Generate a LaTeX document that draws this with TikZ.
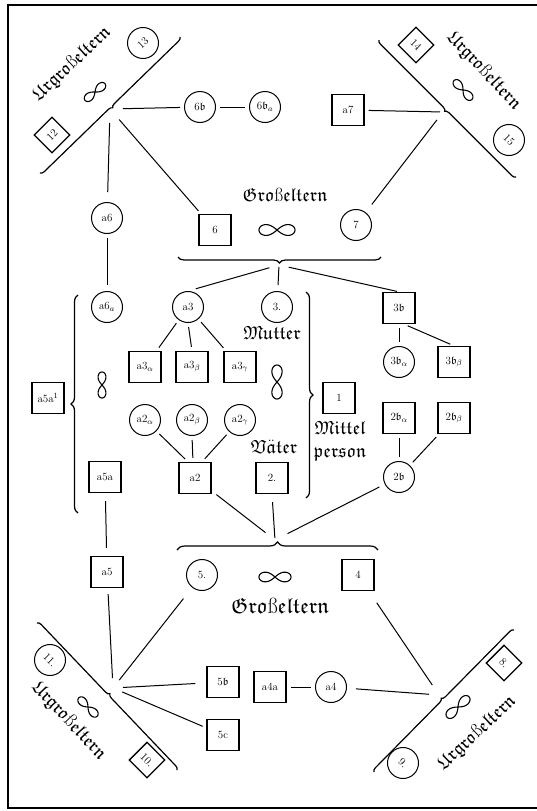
\documentclass[tikz,border=0pt]{standalone}
\usepackage{amssymb}
\usetikzlibrary{decorations.pathreplacing}

\newcommand{\fb}{\mathfrak{b}}
\newcommand{\fk}[1]{\ensuremath{\mathfrak{#1}}}
\newcommand{\Urgross}{\fk{Urgro}ß\fk{eltern}}
\newcommand{\Gross}{\fk{Gro}ß\fk{eltern}}
% lemniscate (the "infinity" marriage sign): x, y, angle, half length
\newcommand{\lemni}[4]{%
  \begin{scope}[shift={(#1,#2)},rotate=#3]
    \draw[lemline] plot[domain=0:360,samples=90,variable=\t]
      ({#4*cos(\t)/(1+sin(\t)^2)},{0.85*#4*sin(\t)*cos(\t)/(1+sin(\t)^2)});
  \end{scope}}

\begin{document}
\begin{tikzpicture}[x=1pt,y=-1pt,
  every node/.append style={font=\fontsize{11}{12}\selectfont},
  pers/.style={circle,draw,line width=1pt,minimum size=31pt,inner sep=0pt},
  kbox/.style={rectangle,draw,line width=1.3pt,minimum width=32pt,minimum height=31pt,inner sep=0pt},
  dbox/.style={rectangle,draw,line width=1.3pt,minimum size=25pt,inner sep=0pt},
  link/.style={line width=1pt,shorten <=4pt,shorten >=4pt},
  bracex/.style={decorate,decoration={brace,amplitude=#1},line width=1.2pt},
  lemline/.style={line width=1.1pt},
  frak/.style={font=\fontsize{19}{21}\selectfont,inner sep=0pt},
  frakbig/.style={font=\fontsize{22}{24}\selectfont,inner sep=0pt}]

\useasboundingbox (0,0) rectangle (536,811);
% frame; its right edge lies past the page
\draw[line width=2pt] (545,5) -- (8,5) -- (8,808) -- (545,808);

% ---- great-grandparent pairs in the four corners
\draw[bracex=4pt] (180,37) -- (40,173);
\draw[bracex=4pt] (516,177) -- (379,40);
\draw[bracex=4pt] (37,623) -- (177,770);
\draw[bracex=4pt] (374,772) -- (514,630);
\coordinate (hTL) at (110,109);
\coordinate (hTR) at (443,112);
\coordinate (hBL) at (113,688);
\coordinate (hBR) at (439,695);

\node[pers,rotate=43] (n13) at (143,43) {13};
\node[dbox,rotate=45] (n12) at (52,135) {12};
\node[dbox,rotate=-45] (n14) at (416,45) {14};
\node[pers,rotate=-45] (n15) at (509,140) {15};
\node[pers,rotate=-45] (n11) at (50,660) {11.};
\node[dbox,rotate=-45] (n10) at (147,760) {10.};
\node[dbox,rotate=-45] (n8) at (504,663) {8.};
\node[pers,rotate=-45] (n9) at (403,763) {9.};

\node[frak,rotate=43] (tTL) at (72,64) {\Urgross};
\node[frak,rotate=-47] (tTR) at (484,71) {\Urgross};
\node[frak,rotate=-47] (tBL) at (69,721) {\Urgross};
\node[frak,rotate=43] (tBR) at (477,733) {\Urgross};

\lemni{95}{92}{40}{13}
\lemni{463}{90}{-47}{13}
\lemni{88}{707}{-45}{13}
\lemni{458}{707}{43}{15}

% ---- upper grandparents
\node[pers] (c6b) at (200,107) {6$\fb$};
\node[pers] (c6ba) at (265,107) {6$\fb_a$};
\node[kbox] (ba7) at (348,110) {a7};
\node[kbox] (b6) at (215,230) {6};
\node[pers] (c7) at (356,225) {7};
\node[frak] (tG1) at (285,195) {\Gross};
\lemni{277}{230}{0}{18}
\draw[bracex=6pt] (381,257) -- (178,257);
\coordinate (bt1) at (279,265);

% ---- parents' generation
\node[pers] (ca6) at (107,218) {a6};
\node[pers] (ca6a) at (107,307) {a6$_a$};
\node[pers] (ca3) at (188,307) {a3};
\node[pers] (c3) at (277,307) {3.};
\node[kbox] (b3b) at (399,308) {3$\fb$};
\node[frak] (tMu) at (272,333) {\fk{Mutter}};

\node[kbox] (ba3a) at (145,367) {a3$_\alpha$};
\node[kbox] (ba3b) at (192,367) {a3$_\beta$};
\node[kbox] (ba3g) at (240,367) {a3$_\gamma$};
\node[pers] (c3ba) at (399,362) {3$\fb_\alpha$};
\node[kbox] (b3bb) at (454,362) {3$\fb_\beta$};
\lemni{102}{385}{90}{13}
\lemni{277}{382}{90}{17}

\node[kbox] (ba5a1) at (48,398) {a5a$^1$};
\node[kbox] (b1) at (339,398) {1};
\node[frak] (tMi) at (340,428) {\fk{Mittel}};
\node[frak] (tPe) at (340,454) {\fk{person}};

\node[pers] (ca2a) at (145,420) {a2$_\alpha$};
\node[pers] (ca2b) at (192,420) {a2$_\beta$};
\node[pers] (ca2g) at (240,420) {a2$_\gamma$};
\node[kbox] (b2ba) at (399,418) {2$\fb_\alpha$};
\node[kbox] (b2bb) at (454,418) {2$\fb_\beta$};
\node[frak] (tVa) at (274,447) {\(\mathfrak{V}\ddot{\mathfrak{a}}\mathfrak{ter}\)};

\node[kbox] (ba5a) at (105,477) {a5a};
\node[kbox] (ba2) at (195,478) {a2};
\node[kbox] (b2) at (272,478) {2.};
\node[pers] (c2b) at (399,477) {2$\fb$};

\draw[bracex=7pt] (78,513) -- (78,295);
\draw[bracex=7pt] (306,292) -- (306,498);

% ---- lower grandparents
\draw[bracex=8pt] (177,550) -- (378,550);
\coordinate (bt2) at (275,540);
\node[kbox] (ba5) at (107,572) {a5};
\node[pers] (c5) at (202,575) {5.};
\lemni{275}{577}{0}{16}
\node[kbox] (b4) at (358,575) {4};
\node[frakbig] (tG2) at (280,606) {\Gross};

\node[kbox] (b5b) at (223,682) {5$\fb$};
\node[kbox] (b5c) at (223,735) {5c};
\node[kbox] (ba4a) at (270,687) {a4a};
\node[pers] (ca4) at (331,687) {a4};

% ---- connectors
\draw[link,shorten <=13pt] (hTL) -- (c6b);
\draw[link] (c6b) -- (c6ba);
\draw[link,shorten <=14pt,shorten >=10pt] (hTL) -- (ca6);
\draw[link,shorten <=14pt] (hTL) -- (b6);
\draw[link,shorten <=3pt] (hTR) -- (ba7);
\draw[link,shorten <=10pt,shorten >=10pt] (hTR) -- (c7);
\draw[link,shorten >=6pt] (ca6) -- (ca6a);

\draw[link,shorten <=10pt,shorten >=8pt] (bt1) -- (ca3.north);
\draw[link,shorten <=2pt,shorten >=6pt] (bt1) -- (c3);
\draw[link,shorten <=10pt,shorten >=2pt] (bt1) -- (b3b.north);

\draw[link] (ca3) -- (ba3a);
\draw[link] (ca3.south) -- (ba3b.north);
\draw[link] (ca3) -- (ba3g);
\draw[link] (b3b.south) -- (c3ba.north);
\draw[link] ([xshift=5pt]b3b.south) -- (b3bb.north);

\draw[link] (ca2a) -- ([xshift=-7pt]ba2.north);
\draw[link] (ca2b.south) -- ([xshift=-2pt]ba2.north);
\draw[link] (ca2g) -- ([xshift=7pt]ba2.north);
\draw[link] (b2ba.south) -- (c2b.north);
\draw[link] (b2bb) -- (c2b);

\draw[link,shorten <=12pt,shorten >=6pt] (bt2) -- (ba2);
\draw[link,shorten <=2pt,shorten >=8pt] (bt2) -- (b2.south);
\draw[link,shorten <=14pt,shorten >=6pt] (bt2) -- (c2b);

\draw[link,shorten >=8pt,shorten <=8pt] (ba5a) -- (ba5);
\draw[link,shorten <=10pt,shorten >=6pt] (hBL) -- (ba5);
\draw[link,shorten <=10pt,shorten >=14pt] (hBL) -- (c5);
\draw[link,shorten <=10pt,shorten >=11pt] (hBL) -- (b5b);
\draw[link,shorten <=10pt,shorten >=4pt] (hBL) -- (b5c);
\draw[link] (ba4a) -- (ca4);
\draw[link,shorten <=10pt,shorten >=9pt] (hBR) -- (ca4);
\draw[link,shorten <=12pt,shorten >=14pt] (hBR) -- (b4);
\end{tikzpicture}
\end{document}
